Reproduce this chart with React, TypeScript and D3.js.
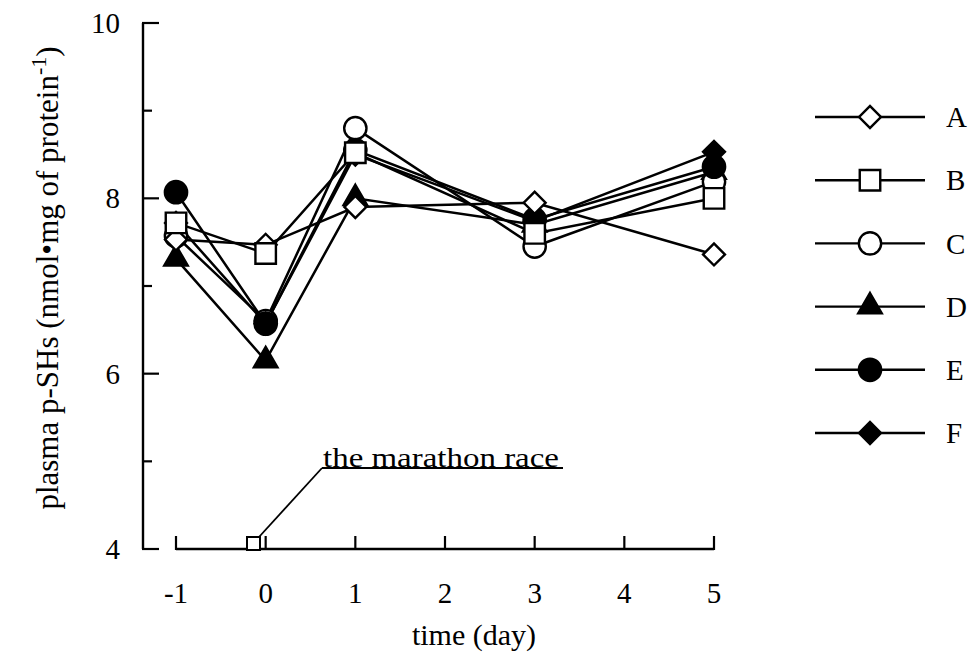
import React from "react";
import * as d3 from "d3";

const days = [-1, 0, 1, 3, 5];
const seriesNames = ["A", "B", "C", "D", "E", "F"];
const valuesA = [7.53, 7.47, 7.9, 7.95, 7.36];
const valuesB = [7.72, 7.37, 8.52, 7.6, 8.0];
const valuesC = [7.57, 6.6, 8.8, 7.45, 8.19];
const valuesD = [7.31, 6.15, 8.0, 7.7, 8.3];
const valuesE = [8.07, 6.57, 8.55, 7.76, 8.36];
const valuesF = [7.72, 6.57, 8.5, 7.74, 8.53];
const xTicks = [-1, 0, 1, 2, 3, 4, 5];
const yMajor = [4, 6, 8, 10];
const yMinor = [5, 7, 9];

const W = 979;
const H = 660;
const FONT = "'Liberation Serif', 'Times New Roman', serif";

type Shape = "diamond" | "square" | "circle" | "triangle";
const shapes: Record<string, { shape: Shape; filled: boolean }> = {
  A: { shape: "diamond", filled: false },
  B: { shape: "square", filled: false },
  C: { shape: "circle", filled: false },
  D: { shape: "triangle", filled: true },
  E: { shape: "circle", filled: true },
  F: { shape: "diamond", filled: true },
};

function symbolPath(shape: Shape): string {
  switch (shape) {
    case "square":
      return d3.symbol(d3.symbolSquare, 420)() as string;
    case "diamond":
      return d3.symbol(d3.symbolSquare, 240)() as string;
    case "circle":
      return d3.symbol(d3.symbolCircle, 390)() as string;
    case "triangle":
      return d3.symbol(d3.symbolTriangle, 240)() as string;
  }
}

function Marker({ name, x, y }: { name: string; x: number; y: number }) {
  const s = shapes[name];
  const rot = s.shape === "diamond" ? " rotate(45)" : "";
  return (
    <path
      d={symbolPath(s.shape)}
      transform={`translate(${x},${y})${rot}`}
      fill={s.filled ? "#000" : "#fff"}
      stroke="#000"
      strokeWidth={2.4}
    />
  );
}

export default function App() {
  const x = d3.scaleLinear().domain([-1, 5]).range([176, 714]);
  const y = d3.scaleLinear().domain([4, 10]).range([549, 23]);
  const data: Record<string, number[]> = {
    A: valuesA,
    B: valuesB,
    C: valuesC,
    D: valuesD,
    E: valuesE,
    F: valuesF,
  };
  const drawOrder = ["D", "C", "E", "F", "A", "B"];
  const line = d3
    .line<number>()
    .x((_, i) => x(days[i]))
    .y((v) => y(v));

  const legendY = d3.scalePoint<string>().domain(seriesNames).range([117, 433]);

  return (
    <svg
      width={W}
      height={H}
      style={{ position: "absolute", left: 0, top: 0, background: "#fff" }}
      fontFamily={FONT}
    >
      <rect x={0} y={0} width={W} height={H} fill="#fff" />
      {/* y axis */}
      <line x1={143} x2={143} y1={y(10)} y2={y(4)} stroke="#000" strokeWidth={2.4} />
      {yMajor.map((t) => (
        <g key={"ym" + t}>
          <line x1={142} x2={159} y1={y(t)} y2={y(t)} stroke="#000" strokeWidth={2.2} />
          <text x={120} y={y(t)} dy="0.35em" textAnchor="end" fontSize={29}>
            {t}
          </text>
        </g>
      ))}
      {yMinor.map((t) => (
        <line key={"yn" + t} x1={142} x2={152} y1={y(t)} y2={y(t)} stroke="#000" strokeWidth={2.2} />
      ))}
      {/* x axis */}
      <line x1={x(-1)} x2={x(5)} y1={y(4)} y2={y(4)} stroke="#000" strokeWidth={2.4} />
      {xTicks.map((t) => (
        <g key={"xt" + t}>
          <line x1={x(t)} x2={x(t)} y1={y(4) + 1} y2={y(4) - 13} stroke="#000" strokeWidth={2.2} />
          <text x={x(t)} y={y(4) + 54} textAnchor="middle" fontSize={29}>
            {t}
          </text>
        </g>
      ))}
      <text x={474} y={645} textAnchor="middle" fontSize={30}>
        time (day)
      </text>
      <text
        transform={`translate(58,${278}) rotate(-90)`}
        textAnchor="middle"
        fontSize={31}
      >
        plasma p-SHs (nmol•mg of protein
        <tspan dy={-12} fontSize={22}>-1</tspan>
        <tspan dy={12}>)</tspan>
      </text>

      {/* annotation */}
      <rect x={247} y={537} width={13} height={13} fill="#fff" stroke="#000" strokeWidth={2} />
      <line x1={259} y1={537} x2={322} y2={468} stroke="#000" strokeWidth={1.8} />
      <line x1={322} y1={468} x2={563} y2={468} stroke="#000" strokeWidth={1.8} />
      <text x={323} y={467} fontSize={28} textLength={236} lengthAdjust="spacingAndGlyphs">
        the marathon race
      </text>

      {/* series lines */}
      {drawOrder.map((n) => (
        <path key={"l" + n} d={line(data[n]) as string} fill="none" stroke="#000" strokeWidth={2.5} />
      ))}
      {drawOrder.map((n) =>
        data[n].map((v, i) => <Marker key={n + i} name={n} x={x(days[i])} y={y(v)} />)
      )}

      {/* legend */}
      {seriesNames.map((n) => (
        <g key={"lg" + n}>
          <line x1={815} x2={925} y1={legendY(n)} y2={legendY(n)} stroke="#000" strokeWidth={2.4} />
          <Marker name={n} x={870} y={legendY(n) as number} />
          <text x={946} y={legendY(n)} dy="0.35em" fontSize={29}>
            {n}
          </text>
        </g>
      ))}
    </svg>
  );
}
